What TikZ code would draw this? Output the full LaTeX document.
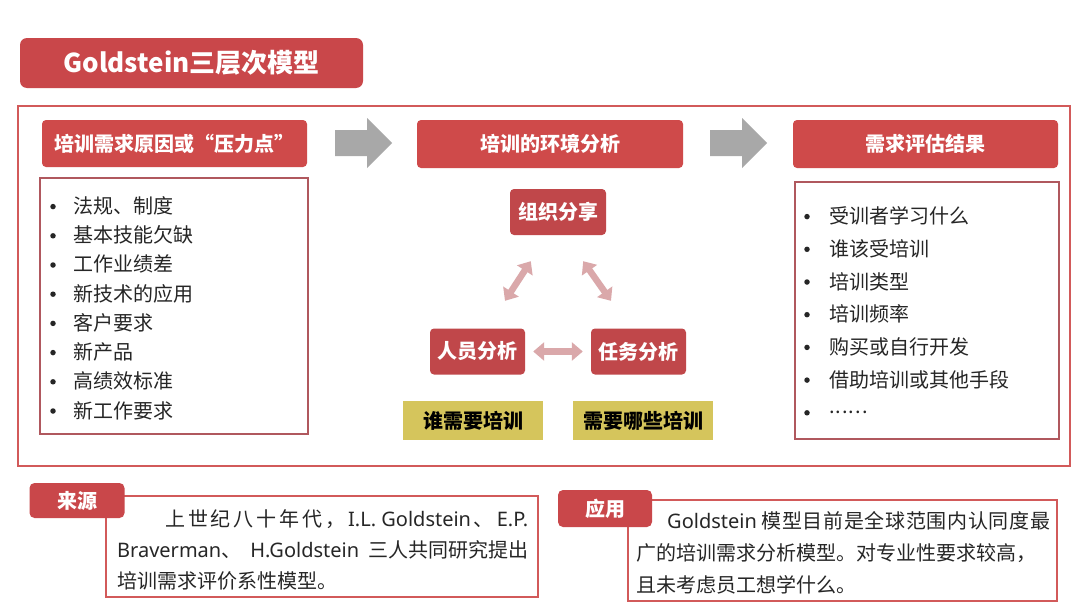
\documentclass[tikz,border=0pt]{standalone}
\usepackage{fontspec}
\setmainfont{Noto Sans CJK SC}
\newfontfamily\latinsans{Noto Sans}
\usetikzlibrary{arrows.meta,calc}
\definecolor{hdrred}{HTML}{CF4A4A}
\definecolor{titlered}{HTML}{C9474A}
\definecolor{darkred}{HTML}{C0474A}
\definecolor{framered}{HTML}{D25A5A}
\definecolor{listedge}{HTML}{B0585E}
\definecolor{olive}{HTML}{D5C55C}
\definecolor{pinkarr}{HTML}{DAA8AA}
\definecolor{arrgray}{HTML}{A8A8A8}
\definecolor{bodytext}{HTML}{262626}
\newcommand\mysixdots{.\kern1pt.\kern1pt.\kern1pt.\kern1pt.\kern1pt.}
\newcommand\qq{\hskip 0pt plus 1fil\relax}
\tikzset{
  redbox/.style={fill=hdrred, rounded corners=4pt, inner sep=0pt, text=white,
    font=\bfseries\fontsize{20}{24}\selectfont},
  smallred/.style={fill=darkred, rounded corners=4pt, inner sep=0pt, text=white,
    font=\bfseries\fontsize{20}{24}\selectfont},
  yelbox/.style={fill=olive, inner sep=0pt, text=black,
    font=\bfseries\fontsize{20}{24}\selectfont},
  listbox/.style={draw=listedge, line width=1.4pt, fill=white, inner sep=0pt},
  textbox/.style={draw=framered, line width=1.4pt, fill=white, inner sep=0pt},
  tabbox/.style={fill=titlered, rounded corners=5pt, inner sep=0pt, text=white,
    font=\bfseries\fontsize{20}{24}\selectfont},
  item/.style={inner sep=0pt, anchor=west, text=bodytext, font=\fontsize{20}{24}\selectfont},
  bul/.style={circle, fill=bodytext, inner sep=0pt, minimum size=5.5pt},
  body/.style={inner sep=0pt, anchor=west, text=bodytext, font=\fontsize{20}{24}\selectfont},
  dbl/.style={draw=pinkarr, line width=6.5pt,
    {Triangle[width=18pt,length=11pt]}-{Triangle[width=18pt,length=11pt]}},
  blockarrow/.style={fill=arrgray}
}
\begin{document}
\begin{tikzpicture}[x=1pt,y=-1pt]
\useasboundingbox (0,0) rectangle (1080,608);
\fill[white] (0,0) rectangle (1080,608);

% title
\node[fill=titlered, rounded corners=7pt, inner sep=0pt, text=white,
  font=\bfseries\fontsize{26}{30}\selectfont, minimum width=343pt, minimum height=50pt]
  (title) at (191.5,63) {Goldstein三层次模型};

% outer frame
\draw[framered, line width=1.4pt] (18,106) rectangle (1070,466);

% headers
\node[redbox, minimum width=265pt, minimum height=47pt] (h1) at (174.5,143.5) {培训需求原因或“压力点”};
\node[redbox, minimum width=266pt, minimum height=48pt] (h2) at (550,144) {培训的环境分析};
\node[redbox, minimum width=265pt, minimum height=48pt] (h3) at (925.5,144) {需求评估结果};

% gray block arrows
\fill[blockarrow] (335,130) -- (367,130) -- (367,118) -- (392,143) -- (367,168) -- (367,156) -- (335,156) -- cycle;
\fill[blockarrow] (710,130) -- (742,130) -- (742,118) -- (767,143) -- (742,168) -- (742,156) -- (710,156) -- cycle;

% left list
\node[listbox, minimum width=268pt, minimum height=256pt] (lbox) at (174,306) {};
\foreach \t [count=\i] in {法规、制度,基本技能欠缺,工作业绩差,新技术的应用,客户要求,新产品,高绩效标准,新工作要求}{
  \node[bul] (lb\i) at (53,{177.4+29.2*\i}) {};
  \node[item] (l\i) at (73,{176.8+29.2*\i}) {\t};
}

% right list
\node[listbox, minimum width=264pt, minimum height=257pt] (rbox) at (927,310.5) {};
\foreach \t [count=\i] in {受训者学习什么,谁该受培训,培训类型,培训频率,购买或自行开发,借助培训或其他手段,\mysixdots}{
  \node[bul] (rb\i) at (807,{183.9+32.7*\i}) {};
  \node[item] (r\i) at (829,{183.3+32.7*\i}) {\t};
}

% middle triangle
\node[smallred, minimum width=96pt, minimum height=46pt] (org) at (558,212) {组织分享};
\node[smallred, minimum width=95pt, minimum height=46pt] (per) at (477.5,351.5) {人员分析};
\node[smallred, minimum width=95pt, minimum height=46pt] (task) at (638.5,351.5) {任务分析};
\draw[dbl] ($(per.north)+(27.5,-27.5)$) -- ($(org.south west)+(21,26)$);
\draw[dbl] ($(org.south east)+(-23,26)$) -- ($(task.north)+(-27.5,-27.5)$);
\draw[dbl] ($(per.east)+(8,0)$) -- ($(task.west)+(-8,0)$);

\node[yelbox, minimum width=140pt, minimum height=39pt] (y1) at (473,420.5) {谁需要培训};
\node[yelbox, minimum width=140pt, minimum height=39pt] (y2) at (643,420.5) {需要哪些培训};

% source
\node[textbox, minimum width=432pt, minimum height=101pt] (sbox) at (322,546.5) {};
\node[tabbox, minimum width=95pt, minimum height=35pt] (tab1) at (77,500.5) {来源};
\node[body] (s1) at (165,519) {\makebox[363pt][s]{上\qq 世\qq 纪\qq 八\qq 十\qq 年\qq 代\qq ，\qq {\latinsans I.L. Goldstein}\qq 、\qq {\latinsans E.P.}}};
\node[body] (s2) at (117,550) {\makebox[411pt][s]{{\latinsans Braverman}、 {\latinsans H.Goldstein} 三人共同研究提出}};
\node[body] (s3) at (117,581) {培训需求评价系性模型。};

% application
\node[textbox, minimum width=429pt, minimum height=101pt] (abox) at (842.5,550.5) {};
\node[tabbox, minimum width=94pt, minimum height=37pt] (tab2) at (605,508.5) {应用};
\node[body] (a1) at (667,521) {\makebox[383pt][s]{{\latinsans Goldstein} 模\qq 型\qq 目\qq 前\qq 是\qq 全\qq 球\qq 范\qq 围\qq 内\qq 认\qq 同\qq 度\qq 最}};
\node[body] (a2) at (636,553) {广的培训需求分析模型。对专业性要求较高，};
\node[body] (a3) at (636,585) {且未考虑员工想学什么。};
\end{tikzpicture}
\end{document}
